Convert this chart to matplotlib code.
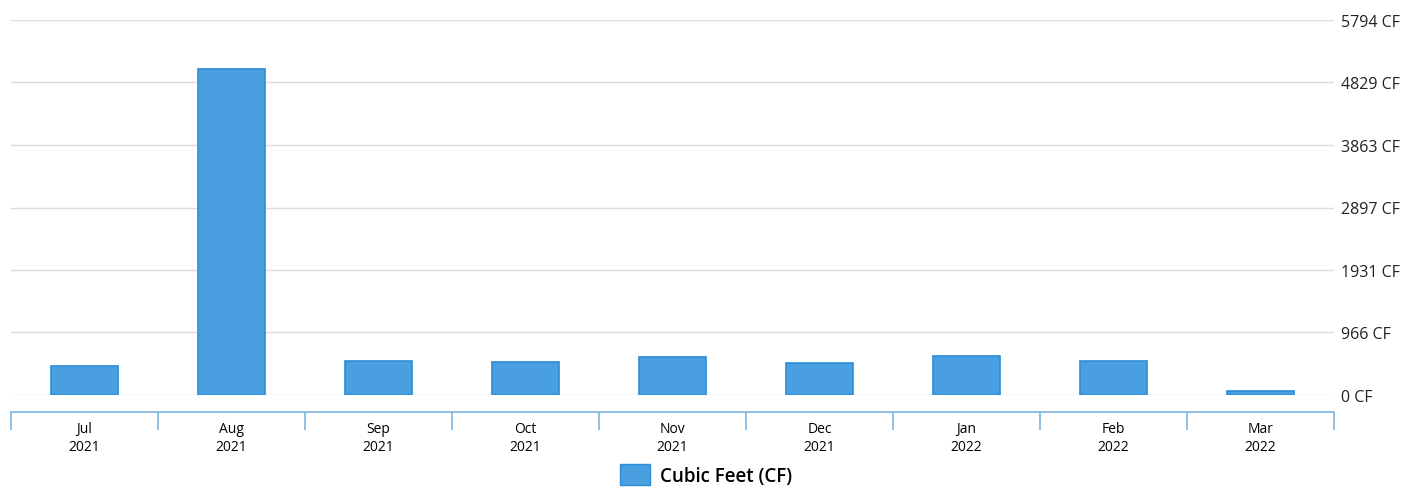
import numpy as np
import matplotlib.pyplot as plt
from matplotlib.patches import Patch

plt.rcParams['font.family'] = ['Open Sans', 'DejaVu Sans']

# Monthly water usage
months = ["Jul\n2021", "Aug\n2021", "Sep\n2021", "Oct\n2021", "Nov\n2021",
          "Dec\n2021", "Jan\n2022", "Feb\n2022", "Mar\n2022"]
usage = [448, 5038, 525, 510, 587, 495, 603, 525, 62]
ytick_vals = [0, 966, 1931, 2897, 3863, 4829, 5794]

bar_color = "#4a9fe0"
edge_color = "#2a8ed8"
axis_color = "#7ab4e0"

fig = plt.figure(figsize=(14.21, 4.89), dpi=100)
ax = fig.add_axes([11 / 1421, 1 - 396 / 489, (1334 - 11) / 1421, (396 - 21) / 489])

x = np.arange(len(months))
ax.bar(x, usage, width=0.46, color=bar_color, edgecolor=edge_color, linewidth=1.2, zorder=3)

ax.set_xlim(-0.5, len(months) - 0.5)
ax.set_ylim(0, ytick_vals[-1])

# y axis on the right, labels only
ax.yaxis.tick_right()
ax.set_yticks(ytick_vals)
ax.set_yticklabels([f"{v} CF" for v in ytick_vals], fontsize=11.5, color="#222222")
ax.tick_params(axis="y", length=0, pad=5)
ax.grid(axis="y", color="#dcdcdc", linewidth=1, zorder=0)

# x axis: labels at centers, ticks at category boundaries
ax.set_xticks(x)
ax.set_xticklabels(months, fontsize=7, color="#222222", linespacing=1.35, fontweight="semibold")
ax.tick_params(axis="x", which="major", length=0, pad=7)
ax.set_xticks(np.arange(-0.5, len(months)), minor=True)
ax.tick_params(axis="x", which="minor", length=13, width=1.2, color=axis_color)

for s in ["top", "left", "right"]:
    ax.spines[s].set_visible(False)
ax.spines["bottom"].set_position(("outward", 12))
ax.spines["bottom"].set_color(axis_color)
ax.spines["bottom"].set_linewidth(1.2)

fig.legend(handles=[Patch(facecolor=bar_color, edgecolor=edge_color, label="Cubic Feet (CF)")],
           loc="center", bbox_to_anchor=(706 / 1421, 1 - 476 / 489), frameon=False,
           handlelength=1.6, handleheight=1.3, handletextpad=0.5, borderpad=0,
           prop={"weight": "semibold", "size": 13.5})

fig.savefig("out.png", dpi=100)
